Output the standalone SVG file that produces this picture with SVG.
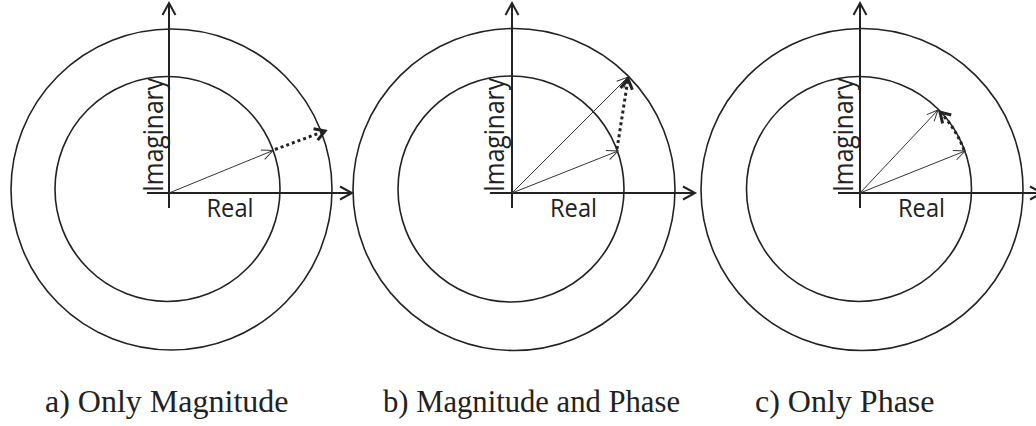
<svg xmlns="http://www.w3.org/2000/svg" width="1036" height="426" viewBox="0 0 1036 426">
<defs>
<style>
.circ{fill:none;stroke:#222;stroke-width:1.6}
.axis{fill:none;stroke:#222;stroke-width:2}
.vec{fill:none;stroke:#333;stroke-width:1}
.dot{fill:none;stroke:#222;stroke-width:3;stroke-dasharray:3 3}
.lbl{font-family:"Open Sans",sans-serif;font-size:26px;fill:#222}
.im{font-size:28px}
.cap{font-family:"Liberation Serif",serif;font-size:32px;fill:#222}
</style>
<marker id="axArr" markerUnits="userSpaceOnUse" markerWidth="30" markerHeight="30" viewBox="-15 -15 30 30" refX="0" refY="0" orient="auto" overflow="visible">
<path d="M -12 -6.5 L 0 0 L -12 6.5" fill="none" stroke="#222" stroke-width="2"/>
</marker>
<marker id="thin" markerUnits="userSpaceOnUse" markerWidth="30" markerHeight="30" viewBox="-15 -15 30 30" refX="0" refY="0" orient="auto" overflow="visible">
<path d="M -11 -5 L 0 0 L -11 5" fill="none" stroke="#333" stroke-width="1"/>
</marker>
<marker id="bold" markerUnits="userSpaceOnUse" markerWidth="30" markerHeight="30" viewBox="-15 -15 30 30" refX="0" refY="0" orient="auto" overflow="visible">
<path d="M -10 -6 L 0 0 L -10 6" fill="none" stroke="#222" stroke-width="3"/>
</marker>
</defs>
<rect width="1036" height="426" fill="#fff"/>

<g id="panel-a">
<circle class="circ" cx="171.5" cy="189.5" r="160.5"/>
<circle class="circ" cx="167.5" cy="189" r="112.5"/>
<text class="lbl im" transform="translate(163,192) rotate(-90)" textLength="114" lengthAdjust="spacingAndGlyphs">Imaginary</text>
<text class="lbl" x="206.5" y="217" textLength="47" lengthAdjust="spacingAndGlyphs">Real</text>
<text class="cap" x="45" y="412">a) Only Magnitude</text>
</g>
<g id="panel-b">
<circle class="circ" cx="514" cy="189.5" r="161"/>
<circle class="circ" cx="511" cy="189" r="113"/>
<text class="lbl im" transform="translate(504,192) rotate(-90)" textLength="114" lengthAdjust="spacingAndGlyphs">Imaginary</text>
<text class="lbl" x="550" y="217" textLength="47" lengthAdjust="spacingAndGlyphs">Real</text>
<text class="cap" x="383" y="412" textLength="297" lengthAdjust="spacingAndGlyphs">b) Magnitude and Phase</text>
</g>
<g id="panel-c">
<circle class="circ" cx="862" cy="189.5" r="161"/>
<circle class="circ" cx="859" cy="189" r="112.5"/>
<text class="lbl im" transform="translate(853,192) rotate(-90)" textLength="114" lengthAdjust="spacingAndGlyphs">Imaginary</text>
<text class="lbl" x="898" y="217" textLength="47" lengthAdjust="spacingAndGlyphs">Real</text>
<text class="cap" x="755" y="412">c) Only Phase</text>
</g>

<g id="connectors">
<line class="axis" x1="169" y1="208" x2="169" y2="3" marker-end="url(#axArr)"/>
<line class="axis" x1="147" y1="193" x2="352" y2="193" marker-end="url(#axArr)"/>
<line class="vec" x1="169" y1="193" x2="273" y2="150.5" marker-end="url(#thin)"/>
<line class="dot" x1="275" y1="149.5" x2="325" y2="131" marker-end="url(#bold)"/>

<line class="axis" x1="512" y1="208" x2="512" y2="3" marker-end="url(#axArr)"/>
<line class="axis" x1="490" y1="193" x2="695" y2="193" marker-end="url(#axArr)"/>
<line class="vec" x1="512" y1="193" x2="618" y2="151" marker-end="url(#thin)"/>
<line class="vec" x1="512" y1="193" x2="628" y2="77" marker-end="url(#thin)"/>
<line class="dot" x1="617" y1="149" x2="628" y2="79" marker-end="url(#bold)"/>

<line class="axis" x1="860" y1="208" x2="860" y2="3" marker-end="url(#axArr)"/>
<line class="axis" x1="838" y1="193" x2="1042" y2="193" marker-end="url(#axArr)"/>
<line class="vec" x1="860" y1="193" x2="965" y2="151" marker-end="url(#thin)"/>
<line class="vec" x1="860" y1="193" x2="938" y2="110" marker-end="url(#thin)"/>
<path class="dot" d="M 964 150 A 112 112 0 0 0 940 112" marker-end="url(#bold)"/>
</g>
</svg>
